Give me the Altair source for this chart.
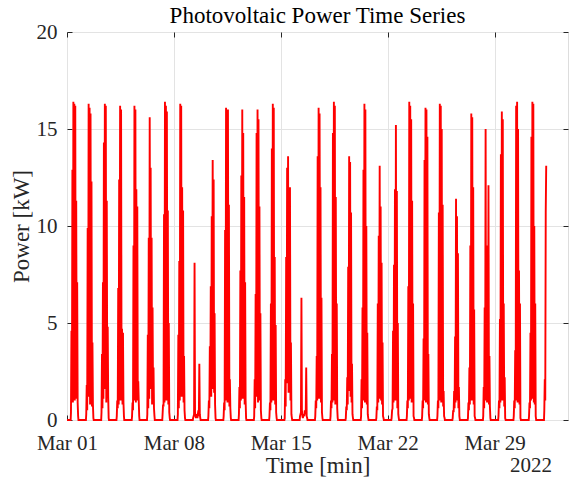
import altair as alt
import pandas as pd

# Daytime sample hours (same for every day); night values are 0
HOURS = [6.25, 7.0, 7.75, 8.5, 9.25, 10.0, 10.75, 11.5, 12.25, 13.0, 13.75, 14.5, 15.25, 16.0, 16.75, 17.5]
SUNRISE_H = 5.75
SUNSET_H = 18.0

# Power [kW] per day of March 2022 (plus the start of 1 April)
d01 = [0.4, 4.6, 1.0, 12.9, 0.9, 16.4, 4.5, 16.3, 1.0, 16.2, 1.1, 11.3, 1.4, 7.1, 0.9, 0.2]
d02 = [0.3, 1.8, 0.5, 9.9, 1.2, 16.3, 5.0, 16.1, 0.8, 15.8, 2.3, 12.3, 0.7, 4.0, 0.8, 0.1]
d03 = [0.4, 3.4, 0.6, 7.1, 1.1, 14.3, 4.0, 16.3, 1.6, 16.2, 0.9, 11.3, 1.5, 4.8, 1.2, 0.1]
d04 = [0.2, 1.0, 0.6, 6.8, 0.8, 12.4, 4.4, 16.2, 1.0, 16.0, 2.3, 4.7, 0.8, 4.5, 0.9, 0.2]
d05 = [0.2, 0.9, 0.5, 9.0, 1.0, 16.2, 4.8, 16.0, 0.9, 11.9, 4.0, 11.0, 1.0, 2.0, 1.0, 0.2]
d06 = [0.3, 4.4, 0.6, 9.4, 1.1, 15.6, 5.9, 13.0, 1.6, 9.4, 0.8, 5.8, 1.2, 2.7, 0.6, 0.2]
d07 = [0.3, 0.8, 0.7, 10.6, 0.9, 16.4, 5.0, 16.2, 1.0, 15.9, 3.1, 10.8, 0.8, 5.0, 0.4, 0.1]
d08 = [0.3, 4.4, 0.6, 8.2, 1.0, 16.3, 4.6, 16.2, 1.2, 12.0, 3.3, 10.8, 0.9, 3.3, 0.5, 0.1]
d09 = [0.1, 0.2, 0.3, 8.1, 0.4, 0.2, 0.1, 0.3, 0.2, 0.1, 0.3, 0.5, 0.2, 2.9, 0.3, 0.1]
d10 = [0.2, 1.0, 0.6, 3.8, 1.5, 6.9, 1.2, 10.5, 3.8, 13.4, 1.6, 12.4, 1.4, 5.5, 0.8, 0.1]
d11 = [0.2, 0.9, 0.5, 9.8, 1.0, 16.1, 3.0, 15.3, 0.9, 16.0, 2.9, 11.1, 0.7, 2.1, 0.6, 0.1]
d12 = [0.3, 1.7, 0.6, 7.7, 1.0, 12.6, 3.6, 16.0, 1.1, 14.8, 1.3, 11.5, 0.8, 7.1, 1.0, 0.1]
d13 = [0.2, 2.1, 0.6, 6.5, 1.2, 14.8, 2.7, 16.0, 0.9, 15.5, 2.7, 11.0, 1.0, 5.5, 0.5, 0.1]
d14 = [0.2, 0.9, 0.5, 6.0, 0.9, 14.0, 2.9, 16.3, 1.0, 16.1, 1.2, 8.4, 0.8, 4.9, 0.4, 0.1]
d15 = [0.1, 2.1, 0.7, 8.4, 1.9, 13.0, 6.2, 13.6, 1.4, 10.6, 1.8, 12.0, 1.0, 4.0, 0.3, 0.1]
d16 = [0.2, 0.3, 0.4, 6.3, 0.5, 0.2, 0.1, 0.2, 0.3, 0.2, 0.5, 0.4, 0.3, 2.7, 0.2, 0.1]
d17 = [0.2, 1.0, 0.6, 3.3, 1.0, 13.6, 2.4, 16.1, 1.1, 15.8, 6.3, 12.0, 0.9, 6.3, 0.4, 0.1]
d18 = [0.2, 1.0, 0.6, 3.4, 0.9, 14.8, 3.8, 16.4, 1.0, 16.2, 0.8, 11.5, 1.1, 6.0, 0.6, 0.1]
d19 = [0.1, 0.7, 0.5, 2.2, 0.8, 7.9, 1.5, 13.6, 5.0, 13.3, 1.2, 10.7, 0.9, 2.9, 0.3, 0.1]
d20 = [0.2, 2.1, 0.6, 5.8, 1.0, 12.9, 2.9, 16.3, 0.9, 16.0, 1.3, 10.0, 0.8, 4.5, 0.3, 0.1]
d21 = [0.1, 0.7, 0.5, 6.0, 0.9, 9.5, 2.9, 13.1, 1.1, 11.0, 1.0, 8.1, 0.8, 4.0, 0.2, 0.1]
d22 = [0.1, 0.5, 0.6, 4.6, 0.9, 8.0, 1.2, 11.9, 1.0, 15.2, 1.4, 11.8, 0.6, 5.0, 0.3, 0.1]
d23 = [0.2, 1.0, 0.6, 6.9, 1.0, 16.4, 2.5, 16.2, 1.1, 15.5, 0.9, 11.3, 1.0, 6.0, 0.2, 0.1]
d24 = [0.2, 1.0, 0.6, 4.2, 1.0, 13.4, 3.4, 16.1, 0.9, 16.0, 1.2, 14.6, 0.8, 3.4, 0.3, 0.1]
d25 = [0.2, 1.0, 0.6, 10.7, 1.0, 16.3, 2.9, 16.2, 0.9, 15.0, 1.1, 11.1, 0.7, 1.5, 0.2, 0.1]
d26 = [0.1, 0.5, 0.4, 1.5, 0.6, 4.3, 0.9, 11.4, 1.7, 10.5, 1.0, 8.6, 0.6, 1.7, 0.2, 0.0]
d27 = [0.1, 0.9, 0.5, 2.7, 0.8, 9.0, 2.4, 15.8, 1.0, 15.6, 1.1, 12.0, 0.8, 5.7, 0.2, 0.1]
d28 = [0.2, 1.7, 0.6, 5.8, 1.0, 15.0, 1.2, 9.0, 0.9, 9.0, 1.1, 12.1, 0.8, 3.3, 0.7, 0.1]
d29 = [0.2, 1.0, 0.6, 5.2, 0.9, 13.7, 2.2, 15.9, 1.0, 15.5, 1.0, 6.0, 0.7, 2.2, 0.1, 0.0]
d30 = [0.2, 1.0, 0.6, 3.6, 1.0, 16.2, 2.0, 16.4, 0.9, 15.0, 1.1, 7.7, 0.8, 6.0, 0.1, 0.0]
d31 = [0.2, 0.9, 0.6, 4.5, 1.0, 14.6, 2.0, 16.4, 1.1, 16.3, 0.9, 10.0, 0.8, 6.0, 0.2, 0.0]
d32 = [0.5, 2.1, 1.0, 10.7, 13.1]  # series ends in the morning of 1 April

DAYS = [d01, d02, d03, d04, d05, d06, d07, d08, d09, d10, d11, d12, d13, d14, d15, d16,
        d17, d18, d19, d20, d21, d22, d23, d24, d25, d26, d27, d28, d29, d30, d31, d32]

X_TICK_DAYS = [1, 8, 15, 22, 29]
Y_TICKS = [0, 5, 10, 15, 20]
YEAR_LABEL = ["2022"]
TITLE = ["Photovoltaic Power Time Series"]

# ---- build the table ----
start = pd.Timestamp("2022-03-01")
rows = [(start, 0.0)]
for i, vals in enumerate(DAYS):
    day = start + pd.Timedelta(days=i)
    rows.append((day + pd.Timedelta(hours=SUNRISE_H), 0.0))
    for h, v in zip(HOURS, vals):
        rows.append((day + pd.Timedelta(hours=h), v))
    if len(vals) == len(HOURS):
        rows.append((day + pd.Timedelta(hours=SUNSET_H), 0.0))
df = pd.DataFrame({"t": [r[0].strftime("%Y-%m-%dT%H:%M:%S") for r in rows],
                   "p": [r[1] for r in rows]})

FONT = "Liberation Serif, Times New Roman, serif"
TXT = "#262626"
W, H = 501, 388

x_vals = [alt.DateTime(year=2022, month=3, date=d) for d in X_TICK_DAYS]
x_scale = alt.Scale(domain=[alt.DateTime(year=2022, month=3, date=1, hours=0),
                            alt.DateTime(year=2022, month=4, date=2, hours=19, minutes=30)])
y_scale = alt.Scale(domain=[0, 20], nice=False, zero=False)

base = alt.Chart(df)

main = base.mark_line(color="#ff0000", strokeWidth=1.9).encode(
    x=alt.X("t:T", scale=x_scale, axis=alt.Axis(
        values=x_vals, format="%b %d", grid=True, gridColor="#e3e3e3", gridWidth=1,
        ticks=False, tickSize=0, domain=False,
        labelFont=FONT, labelFontSize=21, labelColor=TXT, labelBaseline="alphabetic",
        labelPadding=29, labelAlign="center", labelFlush=False, labelOverlap=False,
        title="Time [min]", titleFont=FONT, titleFontSize=23, titleFontWeight="normal",
        titleColor=TXT, titleBaseline="alphabetic", titleX=W / 2, titleY=52)),
    y=alt.Y("p:Q", scale=y_scale, axis=alt.Axis(
        values=Y_TICKS, grid=True, gridColor="#e3e3e3", gridWidth=1,
        ticks=False, tickSize=0, domain=False,
        labelFont=FONT, labelFontSize=21, labelColor=TXT, labelBaseline="middle",
        labelPadding=10, labelFlush=False, labelOverlap=False,
        title="Power [kW]", titleFont=FONT, titleFontSize=23, titleFontWeight="normal",
        titleColor=TXT, titleAngle=270, titleBaseline="alphabetic", titleAlign="center",
        titleX=-39, titleY=H / 2)),
)

# inward ticks on bottom and left
ticks_a = base.mark_line(opacity=0).encode(
    x=alt.X("t:T", scale=x_scale, axis=alt.Axis(
        orient="top", offset=-H, values=x_vals, labels=False, grid=False, domain=False,
        ticks=True, tickSize=5, tickColor=TXT, title="")),
    y=alt.Y("p:Q", scale=y_scale, axis=alt.Axis(
        orient="right", offset=-W, values=Y_TICKS, labels=False, grid=False, domain=False,
        ticks=True, tickSize=5, tickColor=TXT, title="")),
)

# inward ticks on top and right
ticks_b = base.mark_line(opacity=0).encode(
    x=alt.X("t:T", scale=x_scale, axis=alt.Axis(
        orient="bottom", offset=-H, values=x_vals, labels=False, grid=False, domain=False,
        ticks=True, tickSize=5, tickColor=TXT, title="")),
    y=alt.Y("p:Q", scale=y_scale, axis=alt.Axis(
        orient="left", offset=-W, values=Y_TICKS, labels=False, grid=False, domain=False,
        ticks=True, tickSize=5, tickColor=TXT, title="")),
)

year = alt.Chart(pd.DataFrame({"label": YEAR_LABEL})).mark_text(
    font=FONT, fontSize=21, color=TXT, align="right", baseline="alphabetic"
).encode(text="label:N", x=alt.value(485), y=alt.value(440))

title = alt.Chart(pd.DataFrame({"label": TITLE})).mark_text(
    font=FONT, fontSize=23, color="#000000", align="center", baseline="alphabetic"
).encode(text="label:N", x=alt.value(W / 2), y=alt.value(-9))

chart = alt.layer(main, ticks_a, ticks_b, year, title).resolve_axis(
    x="independent", y="independent"
).properties(
    width=W, height=H,
    padding={"left": 67, "top": 32, "right": 1, "bottom": 65},
    autosize="none",
).configure_view(stroke="#262626", strokeWidth=1).configure(background="white")

chart.save("out.html", embed_options={"renderer": "svg", "actions": False})
